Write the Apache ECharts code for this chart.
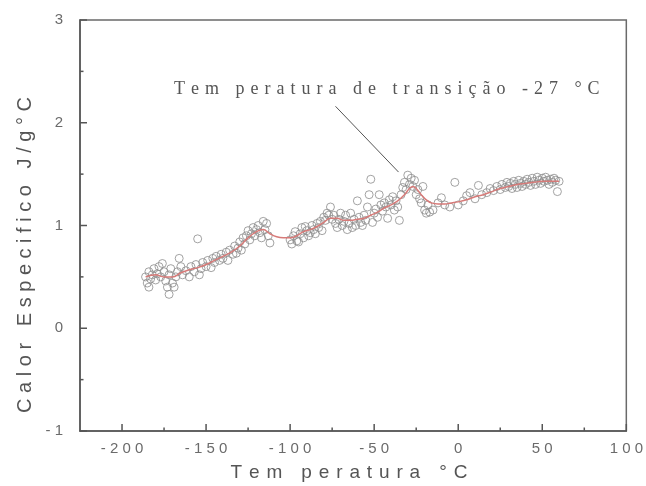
<!DOCTYPE html>
<html>
<head>
<meta charset="utf-8">
<script src="https://cdn.jsdelivr.net/npm/echarts@6/dist/echarts.min.js"></script>
<style>
  html, body { margin: 0; padding: 0; background: #fff; }
  #chart { width: 646px; height: 486px; }
</style>
</head>
<body>
<div id="chart"></div>
<script>
// Axis ticks
const xTicks = [-200, -150, -100, -50, 0, 50, 100];
const xMinorTicks = [-175, -125, -75, -25, 25, 75];
const yTicks = [-1, 0, 1, 2, 3];
const yMinorTicks = [-0.5, 0.5, 1.5, 2.5];
const xMin = -225, xMax = 100;

// Measured specific heat (J/g°C) versus temperature (°C)
const measuredT = [
  -186, -185, -184, -184, -183, -182, -181, -180, -179, -178, -177, -176, -175, -174, -173, -172, -172, -171, -170, -169, -168, -167, -166, -165, -164,
  -162, -160, -159, -157, -156, -155, -154, -153, -152, -150, -149, -147, -146, -145, -144, -142, -141, -140, -138, -137, -136, -134, -133, -132, -131, -130, -129, -128, -127, -126,
  -125, -124, -123, -122, -121, -120, -119, -118, -117, -116, -115, -114, -113, -112,
  -100, -99, -98, -97, -96, -95, -94, -93, -92, -91, -90, -89, -88, -87, -86, -85, -84, -83, -82, -81, -80, -79, -78, -77, -76, -75,
  -74, -73, -72, -71, -70, -69, -68, -67, -66, -65, -64, -63, -62, -61, -60, -59, -58, -57, -56, -55, -54, -53, -52, -51, -50, -49, -48, -47, -46, -45,
  -44, -43, -42, -41, -40, -39, -38, -37, -36, -35, -34, -33, -32, -31, -30, -29, -28, -27, -26, -25, -24, -23, -22, -21, -20, -19, -18, -17,
  -15, -12, -10, -8, -5, -2, 0, 3, 5, 7, 10, 12, 14,
  17, 19, 21, 23, 25, 26, 28, 29, 30, 31, 32, 33, 34, 35, 36, 37, 38, 39, 40, 41, 42, 43, 44, 45, 46, 47, 48, 49, 50, 51, 52, 53, 54, 55, 56, 57, 58, 59, 60
];
const measuredCp = [
  0.50, 0.44, 0.40, 0.55, 0.48, 0.52, 0.58, 0.47, 0.53, 0.60, 0.50, 0.63, 0.55, 0.46, 0.40, 0.33, 0.52, 0.58, 0.44, 0.40, 0.50, 0.55, 0.68, 0.60, 0.52,
  0.56, 0.50, 0.60, 0.55, 0.62, 0.87, 0.52, 0.58, 0.64, 0.60, 0.66, 0.59, 0.68, 0.64, 0.70, 0.66, 0.72, 0.68, 0.74, 0.66, 0.76, 0.72, 0.80, 0.73, 0.78, 0.84, 0.76, 0.88, 0.82, 0.90,
  0.95, 0.86, 0.92, 0.98, 0.90, 0.96, 1.00, 0.93, 0.88, 1.04, 0.96, 1.02, 0.90, 0.83,
  0.86, 0.82, 0.90, 0.94, 0.85, 0.84, 0.92, 0.98, 0.88, 0.99, 0.95, 0.90, 0.93, 1.00, 0.96, 0.92, 1.02, 0.98, 1.04, 0.95, 1.08, 1.05, 1.12, 1.10, 1.18, 1.06,
  1.10, 1.02, 0.98, 1.06, 1.12, 1.00, 1.04, 1.10, 0.96, 1.02, 1.12, 0.98, 1.06, 1.00, 1.24, 1.08, 1.03, 1.00, 1.10, 1.05, 1.18, 1.30, 1.45, 1.03, 1.12, 1.16, 1.08, 1.30, 1.20, 1.14,
  1.22, 1.18, 1.07, 1.25, 1.20, 1.28, 1.15, 1.24, 1.18, 1.05, 1.30, 1.37, 1.42, 1.35, 1.49, 1.40, 1.46, 1.38, 1.44, 1.30, 1.35, 1.26, 1.22, 1.38, 1.15, 1.12, 1.20, 1.13,
  1.15, 1.22, 1.27, 1.20, 1.18, 1.42, 1.20, 1.24, 1.29, 1.32, 1.26, 1.39, 1.30,
  1.32, 1.36, 1.34, 1.38, 1.35, 1.40, 1.37, 1.42, 1.38, 1.41, 1.36, 1.43, 1.40, 1.37, 1.44, 1.41, 1.38, 1.43, 1.40, 1.45, 1.42, 1.39, 1.46, 1.43, 1.40, 1.47, 1.44, 1.41, 1.46, 1.43, 1.47, 1.44, 1.40, 1.45, 1.42, 1.46, 1.44, 1.33, 1.43
];

// Smoothed curve through the measurements
const fitT = [
  -186, -180, -175, -170, -165, -160, -155, -150, -145, -140, -135, -130, -125, -120, -116, -112, -108, -104, -100, -96, -92, -88, -84, -80, -76, -72,
  -68, -64, -60, -56, -52, -48, -44, -40, -36, -32, -29, -27, -25, -22, -19, -16, -12, -8, -4, 0, 5, 10, 15, 20, 25, 30, 35, 40, 45, 50, 55, 60
];
const fitCp = [
  0.50, 0.52, 0.50, 0.50, 0.54, 0.57, 0.59, 0.62, 0.66, 0.70, 0.74, 0.80, 0.88, 0.94, 0.96, 0.92, 0.89, 0.88, 0.88, 0.90, 0.94, 0.96, 0.99, 1.03, 1.07, 1.07,
  1.05, 1.05, 1.06, 1.07, 1.10, 1.13, 1.17, 1.20, 1.24, 1.30, 1.36, 1.38, 1.36, 1.30, 1.25, 1.22, 1.21, 1.21, 1.22, 1.23, 1.25, 1.28, 1.30, 1.33, 1.36, 1.38, 1.40, 1.41, 1.42, 1.43, 1.43, 1.43
];

// Annotation for the transition temperature
const transitionLabel = 'Tem peratura de transição -27 °C';
const arrowFrom = [-73, 2.16];
const arrowTo = [-35.5, 1.52];
const labelAt = [-42.5, 2.33];

// Letter-spaced rendering of a string
const spaced = (s, sep = ' ') => s.split('').join(sep);

const axisColor = '#555';
const labelColor = '#6b6b6b';

// Inward tick marks: [value, onYAxis (0/1), length in px]
const tickMarks = []
  .concat(xTicks.map((v) => [v, 0, 7]))
  .concat(xMinorTicks.map((v) => [v, 0, 3.5]))
  .concat(yTicks.map((v) => [v, 1, 7]))
  .concat(yMinorTicks.map((v) => [v, 1, 3.5]));

const yMin = yTicks[0], yMax = yTicks[yTicks.length - 1];

const chart = echarts.init(document.getElementById('chart'), null, { renderer: 'canvas' });

chart.setOption({
  animation: false,
  backgroundColor: '#fff',
  grid: {
    left: 80, right: 19, top: 20, bottom: 55,
    show: true, borderColor: '#6a6a6a', borderWidth: 1.5, backgroundColor: 'transparent'
  },
  xAxis: {
    type: 'value', min: xMin, max: xMax, position: 'bottom',
    axisLine: { show: true, onZero: false, lineStyle: { color: axisColor, width: 1.5 } },
    axisTick: { show: false },
    axisLabel: {
      show: true, customValues: xTicks, margin: 10,
      color: labelColor, fontFamily: 'Liberation Sans, Arial, sans-serif', fontSize: 15,
      formatter: (v) => spaced(String(v))
    },
    splitLine: { show: false }
  },
  yAxis: {
    type: 'value', min: yMin, max: yMax, position: 'left',
    axisLine: { show: true, onZero: false, lineStyle: { color: axisColor, width: 1.5 } },
    axisTick: { show: false },
    axisLabel: {
      customValues: yTicks,
      color: labelColor, margin: 17, fontFamily: 'Liberation Sans, Arial, sans-serif', fontSize: 15,
      formatter: (v) => spaced(String(v))
    },
    splitLine: { show: false }
  },
  series: [
    {
      name: 'Calor específico',
      type: 'scatter',
      data: measuredT.map((t, i) => [t, measuredCp[i]]),
      symbol: 'circle',
      symbolSize: 8,
      itemStyle: { color: 'transparent', borderColor: '#8c8c8c', borderWidth: 1 },
      z: 2
    },
    {
      name: 'Ajuste',
      type: 'line',
      data: fitT.map((t, i) => [t, fitCp[i]]),
      smooth: 0.4,
      showSymbol: false,
      lineStyle: { color: '#d77a78', width: 1.5 },
      z: 3,
      markLine: {
        silent: true,
        symbol: ['none', 'arrow'],
        symbolSize: [0, 9],
        lineStyle: { color: '#555', width: 1, type: 'solid' },
        label: { show: false },
        data: [[{ coord: arrowFrom }, { coord: arrowTo }]]
      },
      markPoint: {
        silent: true,
        symbol: 'circle',
        symbolSize: 0,
        data: [{ coord: labelAt }],
        label: {
          show: true, position: 'inside',
          formatter: () => spaced(transitionLabel, ' \u200A'),
          color: '#555', fontFamily: 'Liberation Serif, Times New Roman, serif', fontSize: 18
        }
      }
    },
    {
      // axis tick marks placed through the axis scales
      name: 'ticks',
      type: 'custom',
      silent: true,
      clip: false,
      z: 5,
      data: tickMarks,
      encode: { x: -1, y: -1 },
      renderItem: (params, api) => {
        const v = api.value(0), onY = api.value(1), len = api.value(2);
        let p, q;
        if (onY) {
          p = api.coord([xMin, v]);
          q = [p[0] + len, p[1]];
        } else {
          p = api.coord([v, yMin]);
          q = [p[0], p[1] - len];
        }
        return {
          type: 'line',
          shape: { x1: p[0], y1: p[1], x2: q[0], y2: q[1] },
          style: { stroke: axisColor, lineWidth: 1.5 }
        };
      }
    }
  ],
  graphic: [
    {
      type: 'text', x: 25, y: 255, rotation: Math.PI / 2,
      style: {
        text: spaced('Calor Especifico J/g°C'),
        fill: '#555', font: '20px "Liberation Sans", Arial, sans-serif',
        align: 'center', verticalAlign: 'middle'
      }
    },
    {
      type: 'text', x: 349, y: 473,
      style: {
        text: spaced('Tem peratura °C', ' \u200A'),
        fill: '#555', font: '19px "Liberation Sans", Arial, sans-serif',
        align: 'center', verticalAlign: 'middle'
      }
    }
  ]
});
</script>
</body>
</html>
